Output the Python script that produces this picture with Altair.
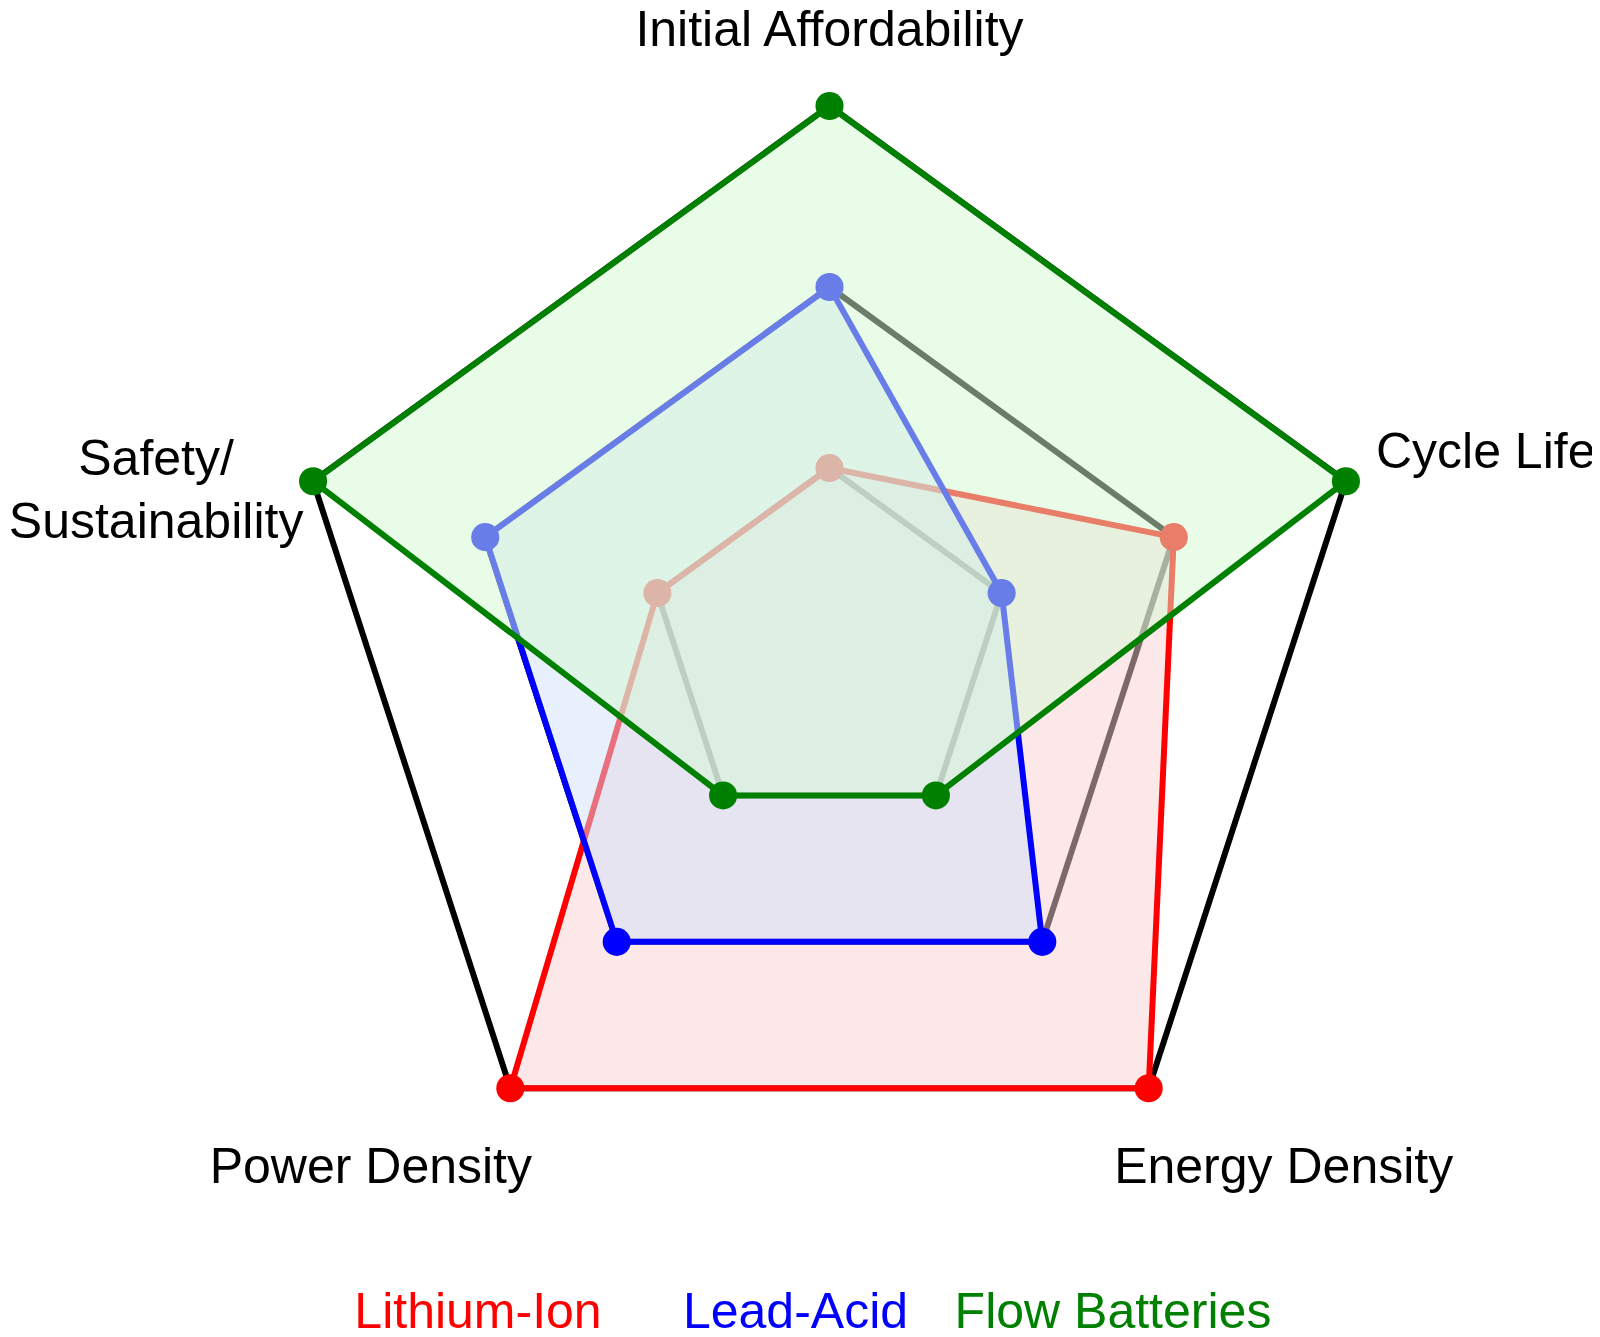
import altair as alt
import pandas as pd

# ---------------- data ----------------
categories = ["Initial Affordability", "Cycle Life", "Energy Density",
              "Power Density", "Safety/\nSustainability"]
series_names = ["Lithium-Ion", "Lead-Acid", "Flow Batteries"]
lithium_ion = [1, 2, 3, 3, 1]
lead_acid = [2, 1, 2, 2, 2]
flow_batteries = [3, 3, 1, 1, 3]
grid_levels = [1, 2, 3]

# ---------------- style ----------------
line_colors = ["#ff0000", "#0000ff", "#008000"]
fill_colors = ["#f9d2d2", "#d2e0fb", "#d2f9d2"]
FONT = "Liberation Sans"
W, H = 1584, 1321          # plot area (px)
CX, CY = 821.5, 641.0      # radar centre inside plot (px)
UNIT = 181.0               # px per value unit
x_domain = [-CX / UNIT, (W - CX) / UNIT]
y_domain = [-(H - CY) / UNIT, CY / UNIT]
# label layout: align, dx, dy (px) relative to the outer vertex
label_layout = [("center", 0, -60), ("left", 30, -13), ("center", 135, 95),
                ("center", -139.5, 95), ("center", -157, -6)]
legend_range = [470, 1105]
legend_y = 1320

# ---------------- tables ----------------
n = len(categories)
values_by_series = [lithium_ion, lead_acid, flow_batteries]
series_df = pd.DataFrame([
    {"series": s, "idx": i, "category": c, "value": v}
    for s, vals in zip(series_names, values_by_series)
    for i, (c, v) in enumerate(zip(categories, vals))
])
grid_df = pd.DataFrame([{"level": l, "idx": i} for l in grid_levels for i in range(n)])
label_df = pd.DataFrame({"category": categories, "idx": list(range(n)),
                         "r": [max(grid_levels)] * n})
legend_df = pd.DataFrame({"series": series_names})


def polar(chart, rfield):
    return chart.transform_calculate(
        angle=f"datum.idx * 2 * PI / {n}"
    ).transform_calculate(
        px=f"{rfield} * sin(datum.angle)",
        py=f"{rfield} * cos(datum.angle)",
    )


X = alt.X("px:Q", scale=alt.Scale(domain=x_domain, nice=False, zero=False), axis=None)
Y = alt.Y("py:Q", scale=alt.Scale(domain=y_domain, nice=False, zero=False), axis=None)

layers = []

# grid pentagons
grid = polar(alt.Chart(grid_df), "datum.level").mark_line(
    color="black", strokeWidth=6, interpolate="linear-closed"
).encode(X, Y, detail="level:N", order="idx:Q")
layers.append(grid)

# series, one after another so later fills cover earlier marks
for s, lc, fc in zip(series_names, line_colors, fill_colors):
    base = polar(alt.Chart(series_df).transform_filter(alt.datum.series == s), "datum.value")
    poly = base.mark_line(
        interpolate="linear-closed", stroke=lc, strokeWidth=6,
        fill=fc, fillOpacity=0.5
    ).encode(X, Y, order="idx:Q")
    pts = base.mark_circle(size=790, color=lc, opacity=1).encode(X, Y)
    layers += [poly, pts]

# axis labels
for i, (align, dx, dy) in enumerate(label_layout):
    lab = polar(alt.Chart(label_df).transform_filter(alt.datum.idx == i), "datum.r").mark_text(
        align=align, baseline="alphabetic", dx=dx, dy=dy, fontSize=50, font=FONT,
        color="black", lineBreak="\n", lineHeight=63
    ).encode(X, Y, text="category:N")
    layers.append(lab)

# legend (coloured text)
legend = alt.Chart(legend_df).mark_text(
    align="center", baseline="alphabetic", fontSize=50, font=FONT
).encode(
    x=alt.X("series:N", scale=alt.Scale(domain=series_names, range=legend_range, padding=0), axis=None),
    y=alt.value(legend_y),
    color=alt.Color("series:N", scale=alt.Scale(domain=series_names, range=line_colors), legend=None),
    text="series:N",
)
layers.append(legend)

chart = alt.layer(*layers).resolve_scale(x="independent").properties(
    width=W, height=H, autosize=alt.AutoSizeParams(type="none"), padding=0
).configure_view(strokeWidth=0)

chart.save("out.html", embed_options={"renderer": "svg", "actions": False})
